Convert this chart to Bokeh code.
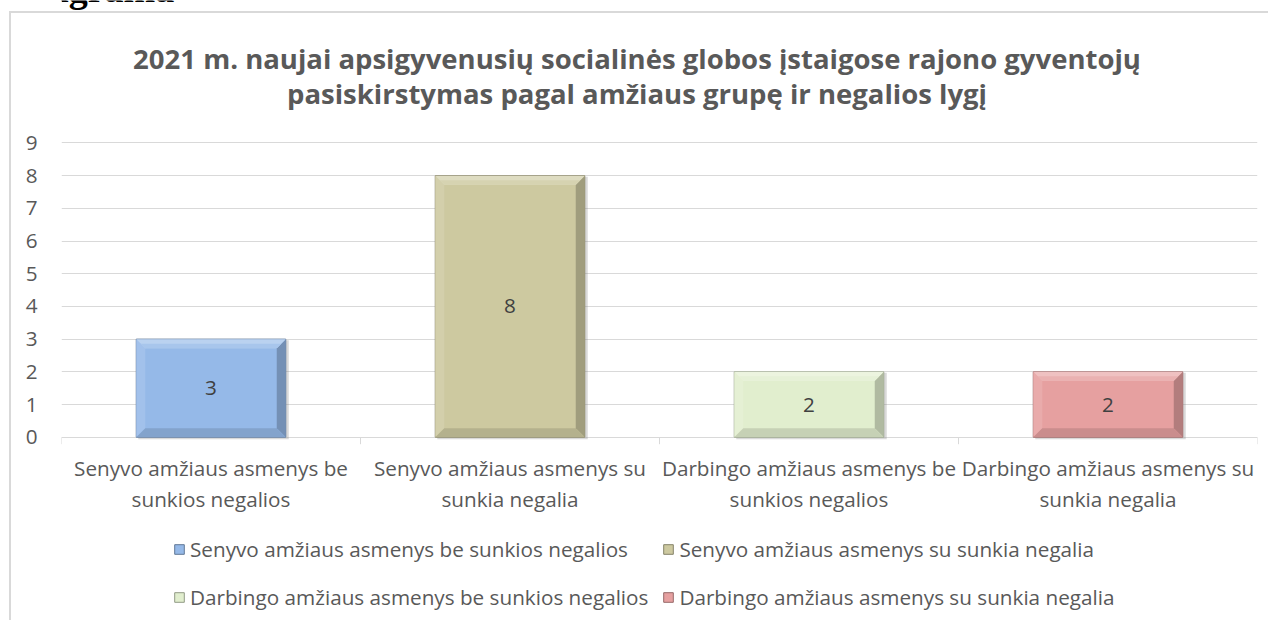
from bokeh.plotting import figure
from bokeh.models import (Range1d, FixedTicker, ColumnDataSource, Legend, LegendItem, Label)
from bokeh.embed import file_html
from bokeh.resources import INLINE
from bokeh.core.properties import value

# ---- data ----
categories = ["Senyvo amžiaus asmenys be sunkios negalios",
              "Senyvo amžiaus asmenys su sunkia negalia",
              "Darbingo amžiaus asmenys be sunkios negalios",
              "Darbingo amžiaus asmenys su sunkia negalia"]
tick_labels = ["Senyvo amžiaus asmenys be\nsunkios negalios",
               "Senyvo amžiaus asmenys su\nsunkia negalia",
               "Darbingo amžiaus asmenys be\nsunkios negalios",
               "Darbingo amžiaus asmenys su\nsunkia negalia"]
values = [3, 8, 2, 2]
colors = ["#95B9E8", "#CDC9A0", "#E1EECE", "#E6A0A0"]
y_ticks = [0, 1, 2, 3, 4, 5, 6, 7, 8, 9]
title_line1 = "2021 m. naujai apsigyvenusių socialinės globos įstaigose rajono gyventojų"
title_line2 = "pasiskirstymas pagal amžiaus grupę ir negalios lygį"
heading = "22 diagrama"

FONT = "Open Sans"
FS = "20.7px"
TXT = "#595959"
GRID = "#D9D9D9"

W, H = 1268, 620
LEFT, RIGHT = 61, 1257                 # frame edges (px)
FRAME_W, FRAME_H = RIGHT - LEFT, H
ZERO_PX = 436.7                        # pixel row of value 0
UNIT_PX = 32.69                        # pixels per unit of value
Y1 = ZERO_PX / UNIT_PX
Y0 = -(H - ZERO_PX) / UNIT_PX
PX = 1.0 / UNIT_PX                     # data units per pixel (y)
PXX = 4.0 / FRAME_W                    # data units per pixel (x)

frame_css = ("linear-gradient(#D9D9D9,#D9D9D9) 9px 11px / 1262px 2px no-repeat, "
             "linear-gradient(#D9D9D9,#D9D9D9) 9px 11px / 2px 620px no-repeat, #FFFFFF")

p = figure(width=W, height=H, output_backend="svg", toolbar_location=None,
           x_range=Range1d(0, 4), y_range=Range1d(Y0, Y1), x_axis_location=None,
           min_border_left=LEFT, min_border_right=W - RIGHT, min_border_top=0,
           min_border_bottom=0, outline_line_color=None,
           background_fill_alpha=0, border_fill_alpha=0,
           styles={"background": frame_css})


def mix(c, other, t):
    c = c.lstrip("#")
    r, g, b = int(c[0:2], 16), int(c[2:4], 16), int(c[4:6], 16)
    o = (255, 255, 255) if other == "w" else (0, 0, 0)
    r = round(r + (o[0] - r) * t)
    g = round(g + (o[1] - g) * t)
    b = round(b + (o[2] - b) * t)
    return "#%02X%02X%02X" % (r, g, b)


n = len(categories)
centers = [i + 0.5 for i in range(n)]
bounds = list(range(n + 1))
half = 0.25
lefts = [c - half for c in centers]
rights = [c + half for c in centers]
bottoms = [0] * n

# y axis + gridlines
p.yaxis.ticker = FixedTicker(ticks=y_ticks)
p.yaxis.axis_line_color = None
p.yaxis.major_tick_line_color = None
p.yaxis.minor_tick_line_color = None
p.yaxis.major_label_text_font = FONT
p.yaxis.major_label_text_font_size = FS
p.yaxis.major_label_text_color = TXT
p.yaxis.major_label_standoff = 18
p.ygrid.grid_line_color = GRID
p.ygrid.grid_line_width = 1
p.xgrid.visible = False

# category boundary ticks below the axis line (value 0)
p.segment(x0=bounds, y0=[0] * len(bounds), x1=bounds, y1=[-7 * PX] * len(bounds),
          line_color=GRID, line_width=1)

# bars: shadow, body, bevel facets
bx, by = 9 * PXX, 9 * PX
p.quad(left=[l + 2 * PXX for l in lefts], right=[r + 3 * PXX for r in rights],
       bottom=[-2 * PX] * n, top=[v - 1 * PX for v in values],
       fill_color="#808080", fill_alpha=0.30, line_color=None)

src = ColumnDataSource(dict(left=lefts, right=rights, bottom=bottoms, top=values,
                            color=colors, line=[mix(c, "k", 0.35) for c in colors]))
bars = p.quad(left="left", right="right", bottom="bottom", top="top", source=src,
              fill_color="color", line_color="line", line_width=1)

xs, ys, fc = [], [], []
for L, R, T, c in zip(lefts, rights, values, colors):
    B = 0
    xs.append([L, L, L + bx, L + bx]); ys.append([B, T, T - by, B + by]); fc.append(mix(c, "w", 0.12))
    xs.append([R, R, R - bx, R - bx]); ys.append([B, T, T - by, B + by]); fc.append(mix(c, "k", 0.22))
    xs.append([L, R, R - bx, L + bx]); ys.append([B, B, B + by, B + by]); fc.append(mix(c, "k", 0.12))
    xs.append([L, R, R - bx, L + bx]); ys.append([T, T, T - by, T - by]); fc.append(mix(c, "w", 0.35))
    xs.append([L + bx / 2, R - bx / 2, R - bx, L + bx]); ys.append([T - by / 2, T - by / 2, T - by, T - by]); fc.append(mix(c, "w", 0.18))
p.patches(xs=xs, ys=ys, fill_color=fc, line_color=None)

# value labels
p.text(x=centers, y=[v / 2 for v in values], text=[str(v) for v in values],
       text_align="center", text_baseline="middle", text_font=value(FONT),
       text_font_size=FS, text_color="#404040")

# category labels (two lines under the axis line)
line1 = [t.split("\n")[0] for t in tick_labels]
line2 = [t.split("\n")[1] for t in tick_labels]
p.text(x=centers, y=[-30.3 * PX] * n, text=line1, text_align="center",
       text_baseline="middle", text_font=value(FONT), text_font_size=FS, text_color=TXT)
p.text(x=centers, y=[-61.3 * PX] * n, text=line2, text_align="center",
       text_baseline="middle", text_font=value(FONT), text_font_size=FS, text_color=TXT)

# chart title (two lines)
title_x = (636.5 - LEFT) * PXX
p.text(x=[title_x, title_x], y=[(ZERO_PX - 58) * PX, (ZERO_PX - 93) * PX],
       text=[title_line1, title_line2], text_align="center", text_baseline="middle",
       text_font=value(FONT), text_font_size="27.5px", text_font_style="bold",
       text_color=TXT)

# page heading, mostly above the visible area
p.add_layout(Label(x=-91, y=H + 12, x_units="screen", y_units="screen", text=heading,
                   text_font="Liberation Serif", text_font_style="bold",
                   text_font_size="38px", text_color="#000000",
                   text_baseline="alphabetic"))

# legend inside the lower part of the frame
items = [LegendItem(label=categories[i], renderers=[bars], index=i) for i in range(n)]
legend = Legend(items=items, ncols=2, location=(112, 6), orientation="horizontal",
                label_text_font=FONT, label_text_font_size=FS, label_text_color=TXT,
                glyph_width=12, glyph_height=12, label_height=34, label_standoff=5,
                spacing=14, padding=0, margin=0, border_line_color=None,
                background_fill_alpha=0)
p.add_layout(legend)

open("out.html", "w").write(file_html(p, INLINE))
